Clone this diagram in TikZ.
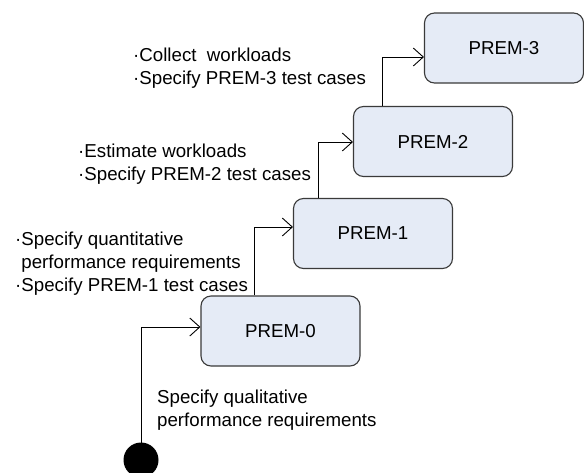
\documentclass[tikz,border=0pt]{standalone}
\usepackage{fontspec}
\setmainfont{Liberation Sans}
\usetikzlibrary{arrows.meta}
\definecolor{boxfill}{HTML}{E5EBF6}
\definecolor{boxline}{HTML}{3A3A3A}
\tikzset{
  prem/.style={draw=boxline, line width=1.1pt, fill=boxfill, rounded corners=10pt,
    minimum width=159pt, minimum height=70pt, inner sep=0pt,
    font={\fontsize{18.7}{23}\selectfont}},
  lbl/.style={anchor=base west, align=left, inner sep=0pt,
    font={\fontsize{18.7}{23}\selectfont}},
  flow/.style={draw=black, line width=0.9pt, -{Straight Barb[length=10pt,width=18pt,line width=0.9pt]}}
}
\begin{document}
\begin{tikzpicture}[x=1pt,y=-1pt]
\useasboundingbox (0,0) rectangle (584,472);
\node[prem] (p3) at (504,48) {PREM-3};
\node[prem] (p2) at (433,141.5) {PREM-2};
\node[prem] (p1) at (373,233.5) {PREM-1};
\node[prem] (p0) at (280.5,331) {PREM-0};
\fill (141,460) circle[radius=17.5pt];
\coordinate (start) at (141,442.5);
\draw[flow] (start) |- (p0.west |- 0,327);
\draw[flow] (p0.north -| 254,0) |- (p1.west |- 0,227);
\draw[flow] (p1.north -| 318,0) |- (p2.west |- 0,142);
\draw[flow] (p2.north -| 382,0) |- (p3.west |- 0,57);
\node[lbl] (t3) at (133,84) {·Collect\ \ workloads\\·Specify PREM-3 test cases};
\node[lbl] (t2) at (78,180) {·Estimate workloads\\·Specify PREM-2 test cases};
\node[lbl] (t1) at (15,291) {·Specify quantitative\\\hphantom{·}performance requirements\\·Specify PREM-1 test cases};
\node[lbl] (t0) at (157,426) {Specify qualitative\\performance requirements};
\end{tikzpicture}
\end{document}
